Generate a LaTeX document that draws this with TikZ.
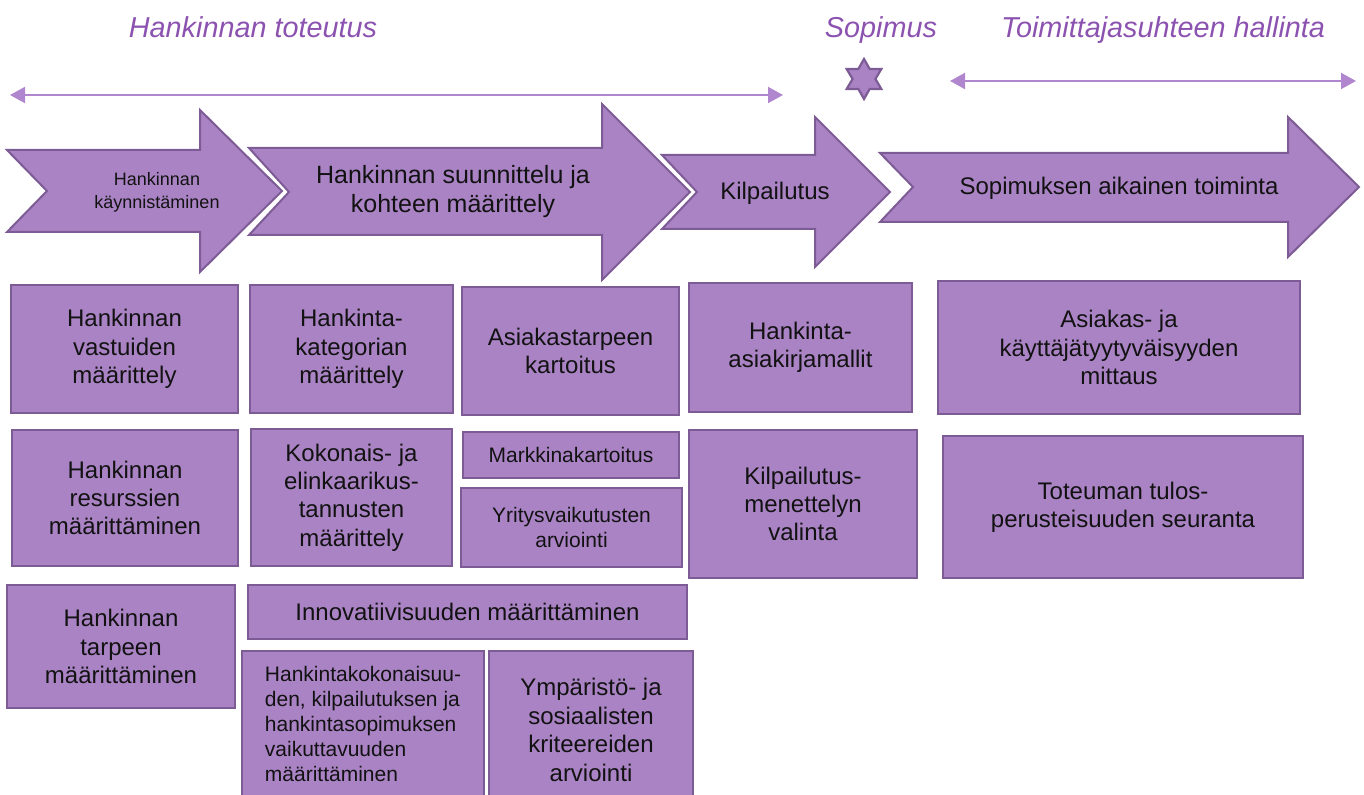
\documentclass[tikz,border=0pt]{standalone}
\usepackage{fontspec}
\setmainfont{Liberation Sans}
\usetikzlibrary{arrows.meta,shapes.geometric}
\definecolor{boxfill}{RGB}{170,131,197}
\definecolor{boxline}{RGB}{125,92,150}
\definecolor{titlecol}{RGB}{140,82,176}
\definecolor{arrowcol}{RGB}{176,134,206}
\begin{document}
\begin{tikzpicture}[x=0.5pt,y=-0.5pt,
  box/.style={draw=boxline, fill=boxfill, line width=1pt, rectangle, inner sep=2pt, align=center, text=black!93, font=\fontsize{12}{14.2}\selectfont},
  smallbox/.style={box, font=\fontsize{10.5}{12.5}\selectfont},
  chev/.style={draw=boxline, fill=boxfill, line width=1pt, line join=miter},
  chevtext/.style={align=center, text=black!93, font=\fontsize{12}{14.5}\selectfont},
  ttl/.style={text=titlecol, font=\fontsize{14.4}{17}\selectfont\itshape, anchor=base},
  span/.style={draw=arrowcol, line width=1pt, {Triangle[length=7.5pt,width=8pt]}-{Triangle[length=7.5pt,width=8pt]}},
]
\useasboundingbox (0,0) rectangle (1364,795);

% titles
\node[ttl] (t1) at (253,38) {Hankinnan toteutus};
\node[ttl] (t2) at (881,38) {Sopimus};
\node[ttl] (t3) at (1163,38) {Toimittajasuhteen hallinta};

% span arrows
\coordinate (l1) at (10,95);
\coordinate (l2) at (783,95);
\coordinate (r1) at (950,81);
\coordinate (r2) at (1356,81);
\draw[span] (l1) -- (l2);
\draw[span] (r1) -- (r2);

% star
\node[star, star points=6, star point ratio=1.75, minimum size=20pt, inner sep=0pt, draw=boxline, fill=boxfill, line width=1.1pt] (star) at (864,79) {};

% chevron arrows
\draw[chev] (7,150) -- (200,150) -- (200,110) -- (282,191) -- (200,272) -- (200,232) -- (7,232) -- (47,191) -- cycle;
\draw[chev] (249,148) -- (602,148) -- (602,104) -- (690,192) -- (602,280) -- (602,235) -- (249,235) -- (289,192) -- cycle;
\draw[chev] (662,155) -- (815,155) -- (815,117) -- (890,192) -- (815,267) -- (815,229) -- (662,229) -- (697,192) -- cycle;
\draw[chev] (880,153) -- (1288,153) -- (1288,117) -- (1359,187) -- (1288,257) -- (1288,222) -- (880,222) -- (913,187) -- cycle;

\node[chevtext, font=\fontsize{9}{11.5}\selectfont] (a1) at (157,192) {Hankinnan\\käynnistäminen};
\node[chevtext, font=\fontsize{12.5}{14.5}\selectfont] (a2) at (453,192) {Hankinnan suunnittelu ja\\kohteen määrittely};
\node[chevtext] (a3) at (775,193) {Kilpailutus};
\node[chevtext] (a4) at (1119,188) {Sopimuksen aikainen toiminta};

% column 1
\node[box, minimum width=113.5pt, minimum height=64pt] (b1) at (124.5,349) {Hankinnan\\vastuiden\\määrittely};
\node[box, minimum width=113pt, minimum height=68pt] (b2) at (125,498) {Hankinnan\\resurssien\\määrittäminen};
\node[box, minimum width=114pt, minimum height=61.5pt] (b3) at (121,646.5) {Hankinnan\\tarpeen\\määrittäminen};

% column 2
\node[box, minimum width=101.5pt, minimum height=64pt] (c1) at (351.5,349) {Hankinta-\\kategorian\\määrittely};
\node[box, minimum width=100.5pt, minimum height=68.5pt] (c2) at (351.5,497.5) {Kokonais- ja\\elinkaarikus-\\tannusten\\määrittely};
\node[box, minimum width=219.5pt, minimum height=27pt] (c3) at (467.5,612) {Innovatiivisuuden määrittäminen};
\node[smallbox, align=left, minimum width=121pt, minimum height=73pt] (c4) at (363,724) {Hankintakokonaisuu-\\den, kilpailutuksen ja\\hankintasopimuksen\\vaikuttavuuden\\määrittäminen};
\node[box, minimum width=102pt, minimum height=79pt] (c5) at (591,730) {Ympäristö- ja\\sosiaalisten\\kriteereiden\\arviointi};

% column 3
\node[box, minimum width=108.5pt, minimum height=64pt] (d1) at (570.5,351) {Asiakastarpeen\\kartoitus};
\node[smallbox, minimum width=108pt, minimum height=23pt] (d2) at (571,455) {Markkinakartoitus};
\node[smallbox, minimum width=110.5pt, minimum height=39.5pt] (d3) at (571.5,527.5) {Yritysvaikutusten\\arviointi};

% column 4
\node[box, minimum width=111.5pt, minimum height=64.5pt] (e1) at (800.5,347.5) {Hankinta-\\asiakirjamallit};
\node[box, minimum width=114pt, minimum height=74pt] (e2) at (803,504) {Kilpailutus-\\menettelyn\\valinta};

% column 5
\node[box, minimum width=181pt, minimum height=66.5pt] (f1) at (1119,347.5) {Asiakas- ja\\käyttäjätyytyväisyyden\\mittaus};
\node[box, minimum width=180pt, minimum height=71pt] (f2) at (1123,507) {Toteuman tulos-\\perusteisuuden seuranta};
\end{tikzpicture}
\end{document}
